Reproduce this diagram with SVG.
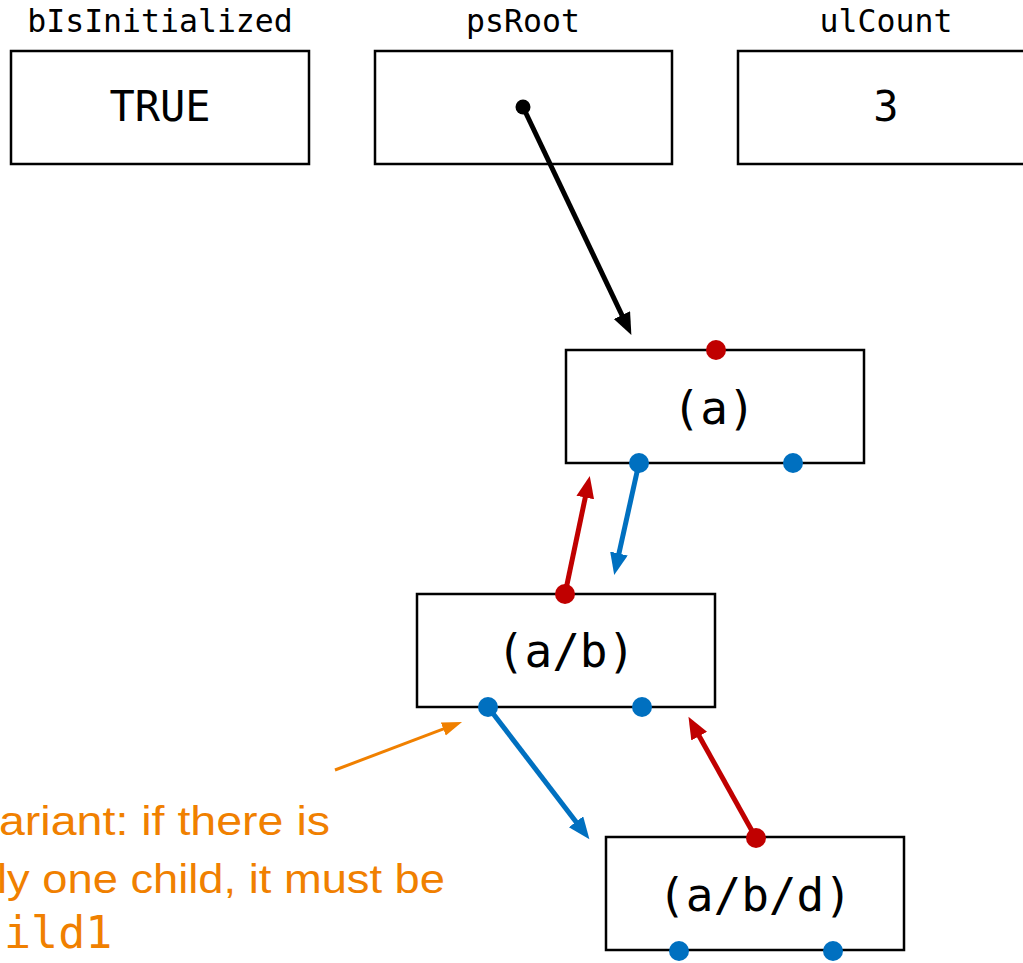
<svg xmlns="http://www.w3.org/2000/svg" width="1023" height="963" viewBox="0 0 1023 963">
<style>
.box{fill:#fff;stroke:#000;stroke-width:2.5}
.lbl{font-family:"DejaVu Sans Mono",monospace;font-size:31.5px;fill:#000;text-anchor:middle}
.val{font-family:"DejaVu Sans Mono",monospace;font-size:42px;fill:#000;text-anchor:middle}
.nv{font-family:"DejaVu Sans Mono",monospace;font-size:46px;fill:#000;text-anchor:middle}
.red{fill:#C00000}
.blue{fill:#0070C0}
.note{font-family:"Liberation Sans",Arial,sans-serif;font-size:40px;fill:#F08000}
.mono{font-family:"DejaVu Sans Mono",monospace;font-size:45px;fill:#F08000}
</style>
<defs>
<marker id="ak" markerUnits="userSpaceOnUse" markerWidth="24" markerHeight="20" refX="9" refY="9" orient="auto"><path d="M0,0 L22,9 L0,18 z" fill="#000"/></marker>
<marker id="ar" markerUnits="userSpaceOnUse" markerWidth="24" markerHeight="20" refX="9" refY="9" orient="auto"><path d="M0,0 L22,9 L0,18 z" fill="#C00000"/></marker>
<marker id="ab" markerUnits="userSpaceOnUse" markerWidth="24" markerHeight="20" refX="9" refY="9" orient="auto"><path d="M0,0 L22,9 L0,18 z" fill="#0070C0"/></marker>
<marker id="ao" markerUnits="userSpaceOnUse" markerWidth="22" markerHeight="18" refX="8" refY="7" orient="auto"><path d="M0,0 L20,7 L0,14 z" fill="#F08000"/></marker>
</defs>
<rect width="1023" height="963" fill="#fff"/>
<g id="bIsInitialized">
<text class="lbl" x="160" y="32">bIsInitialized</text>
<rect class="box" x="11" y="51" width="298" height="113"/>
<text class="val" x="160" y="121">TRUE</text>
</g>
<g id="psRoot">
<text class="lbl" x="523" y="32">psRoot</text>
<rect class="box" x="375" y="51" width="297" height="113"/>
</g>
<g id="ulCount">
<text class="lbl" x="886" y="32">ulCount</text>
<rect class="box" x="738" y="51" width="300" height="113"/>
<text class="val" x="886" y="121">3</text>
</g>
<g id="node-a">
<rect class="box" x="566" y="350" width="298" height="113"/>
<text class="nv" x="714" y="424">(a)</text>
</g>
<g id="node-ab">
<rect class="box" x="417" y="594" width="298" height="113"/>
<text class="nv" x="566" y="667">(a/b)</text>
</g>
<g id="node-abd">
<rect class="box" x="606" y="837" width="298" height="113"/>
<text class="nv" x="755" y="911">(a/b/d)</text>
</g>
<g id="connectors" fill="none" stroke-width="5">
<line x1="523" y1="107" x2="625.8" y2="323.2" stroke="#000" marker-end="url(#ak)"/>
<line x1="565" y1="594" x2="587.1" y2="488.7" stroke="#C00000" marker-end="url(#ar)"/>
<line x1="639" y1="463" x2="617.0" y2="562.3" stroke="#0070C0" marker-end="url(#ab)"/>
<line x1="488" y1="707" x2="581.5" y2="828.9" stroke="#0070C0" marker-end="url(#ab)"/>
<line x1="756" y1="838" x2="694.8" y2="728.2" stroke="#C00000" marker-end="url(#ar)"/>
<line x1="335" y1="770" x2="450.8" y2="726.2" stroke="#F08000" stroke-width="3" marker-end="url(#ao)"/>
</g>
<g id="dots">
<circle cx="523" cy="107" r="7.5" fill="#000"/>
<circle class="red" cx="716" cy="350" r="10"/>
<circle class="blue" cx="639" cy="463" r="10"/>
<circle class="blue" cx="793" cy="463" r="10"/>
<circle class="red" cx="565" cy="594" r="10"/>
<circle class="blue" cx="488" cy="707" r="10"/>
<circle class="blue" cx="642" cy="707" r="10"/>
<circle class="red" cx="756" cy="838" r="10"/>
<circle class="blue" cx="679" cy="951" r="10"/>
<circle class="blue" cx="833" cy="951" r="10"/>
</g>
<g id="note">
<text class="note" x="-1" y="835" textLength="331" lengthAdjust="spacingAndGlyphs">ariant: if there is</text>
<text class="note" x="-3" y="893" textLength="448" lengthAdjust="spacingAndGlyphs">ly one child, it must be</text>
<text class="mono" x="4" y="948">ild1</text>
</g>
</svg>
